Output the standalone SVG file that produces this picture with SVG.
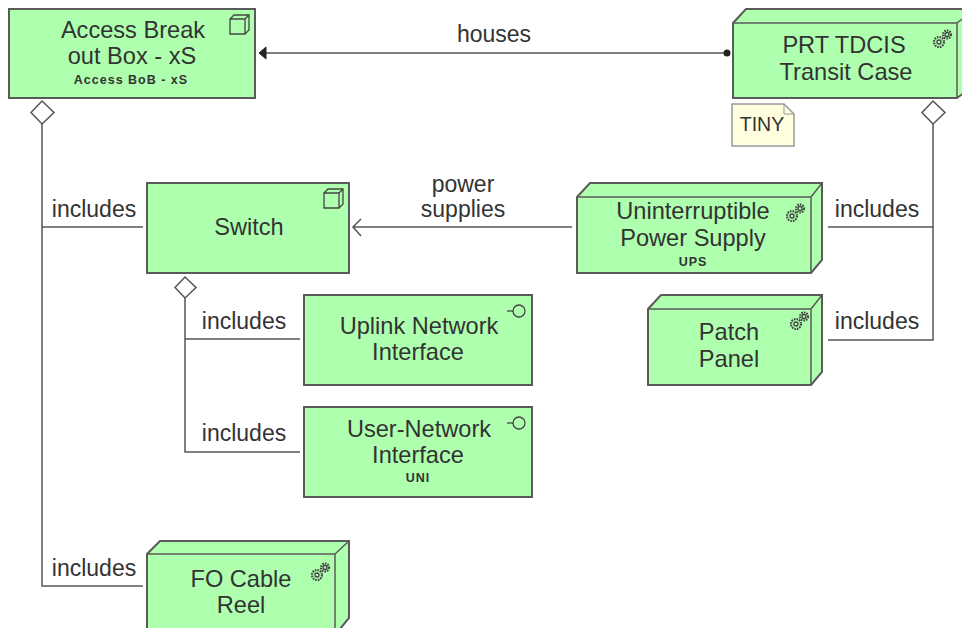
<svg xmlns="http://www.w3.org/2000/svg" width="962" height="628" viewBox="0 0 962 628">
<style>
.n{fill:#aeffae;stroke:#5a5a5a;stroke-width:2}
.f{fill:none;stroke:#5a5a5a;stroke-width:1.5}
.i{fill:none;stroke:#444;stroke-width:1.3}
.g{fill:none;stroke:#444;stroke-width:2.2;stroke-dasharray:1.6 1}
.c{fill:none;stroke:#555;stroke-width:1.5}
text{font-family:"Liberation Sans",Arial,sans-serif;fill:#333;text-anchor:middle}
.t{font-size:23.6px}
.l{font-size:23px}
.s{font-size:12.5px;font-weight:bold;letter-spacing:1px}
</style>
<defs>
<g id="box"><path class="i" d="M0 4H15V19H0ZM0 4L4 0H19V15L15 19M15 4L19 0"/></g>
<g id="gear"><circle class="g" cx="7" cy="13" r="5"/><circle class="i" cx="7" cy="13" r="2"/><circle class="g" cx="15" cy="5.500" r="4"/><circle class="i" cx="15" cy="5.500" r="2"/></g>
<g id="ifc"><path class="i" d="M0 6H6"/><circle class="i" cx="12" cy="6" r="6"/></g>
</defs>
<g id="connectors">
<path class="c" d="M727 53H262"/>
<circle cx="727" cy="53" r="3.500" fill="#222"/>
<path d="M259 53L266 47V59Z" fill="#222" stroke="#222"/>
<path class="c" d="M42 124V586H143M42 227H143"/>
<path d="M42 101L54 112.500L42 124L31 112.500Z" fill="#fff" stroke="#555" stroke-width="1.500"/>
<path class="c" d="M933 124V340H828M933 227H828"/>
<path d="M933 101L945 112.500L933 124L922 112.500Z" fill="#fff" stroke="#555" stroke-width="1.500"/>
<path class="c" d="M185 298V452H300M185 339H300"/>
<path d="M185 277L196 287.500L185 298L175 287.500Z" fill="#fff" stroke="#555" stroke-width="1.500"/>
<path class="c" d="M572 227H353M361 219L353 227L361 236"/>
<text class="l" x="494" y="42">houses</text>
<text class="l" x="463" y="192">power</text>
<text class="l" x="463" y="217">supplies</text>
<text class="l" x="94" y="217">includes</text>
<text class="l" x="877" y="217">includes</text>
<text class="l" x="877" y="329">includes</text>
<text class="l" x="244" y="329">includes</text>
<text class="l" x="244" y="441">includes</text>
<text class="l" x="94" y="576">includes</text>
</g>
<g id="access-box">
<rect class="n" x="9" y="9" width="246" height="89"/>
<use href="#box" x="230" y="15"/>
<text class="t" x="133" y="38">Access Break</text>
<text class="t" x="132" y="64">out Box - xS</text>
<text class="s" x="131" y="84">Access BoB - xS</text>
</g>
<g id="transit-case">
<path class="n" d="M733 23L746 9H975V85L957 98H733Z"/>
<path class="f" d="M733 23H957V98M957 23L975 9"/>
<use href="#gear" x="932" y="29"/>
<text class="t" x="844" y="53">PRT TDCIS</text>
<text class="t" x="846" y="80">Transit Case</text>
</g>
<g id="note-tiny">
<path d="M732 104H784L794 114V146H732Z" fill="#ffffe0" stroke="#999" stroke-width="1.500"/>
<path d="M784 104V114H794" fill="none" stroke="#999"/>
<text x="762" y="131" style="font-size:19.500px">TINY</text>
</g>
<g id="switch">
<rect class="n" x="147" y="183" width="202" height="90"/>
<use href="#box" x="324" y="189"/>
<text class="t" x="249" y="235">Switch</text>
</g>
<g id="ups">
<path class="n" d="M577 197L590 183H822V260L811 273H577Z"/>
<path class="f" d="M577 197H811V273M811 197L822 183"/>
<use href="#gear" x="785" y="203"/>
<text class="t" x="693" y="219">Uninterruptible</text>
<text class="t" x="693" y="246">Power Supply</text>
<text class="s" x="693" y="266">UPS</text>
</g>
<g id="patch-panel">
<path class="n" d="M648 309L661 295H822V372L811 385H648Z"/>
<path class="f" d="M648 309H811V385M811 309L822 295"/>
<use href="#gear" x="789" y="311"/>
<text class="t" x="729" y="340">Patch</text>
<text class="t" x="729" y="367">Panel</text>
</g>
<g id="uplink">
<rect class="n" x="304" y="295" width="228" height="90"/>
<use href="#ifc" x="507" y="305"/>
<text class="t" x="419" y="334">Uplink Network</text>
<text class="t" x="418" y="360">Interface</text>
</g>
<g id="uni">
<rect class="n" x="304" y="407" width="228" height="90"/>
<use href="#ifc" x="507" y="417"/>
<text class="t" x="419" y="437">User-Network</text>
<text class="t" x="418" y="463">Interface</text>
<text class="s" x="418" y="482">UNI</text>
</g>
<g id="fo-cable-reel">
<path class="n" d="M147 554L160 541H349V618L335 635H147Z"/>
<path class="f" d="M147 554H335V635M335 554L349 541"/>
<use href="#gear" x="310" y="562"/>
<text class="t" x="241" y="587">FO Cable</text>
<text class="t" x="241" y="613">Reel</text>
</g>
</svg>
